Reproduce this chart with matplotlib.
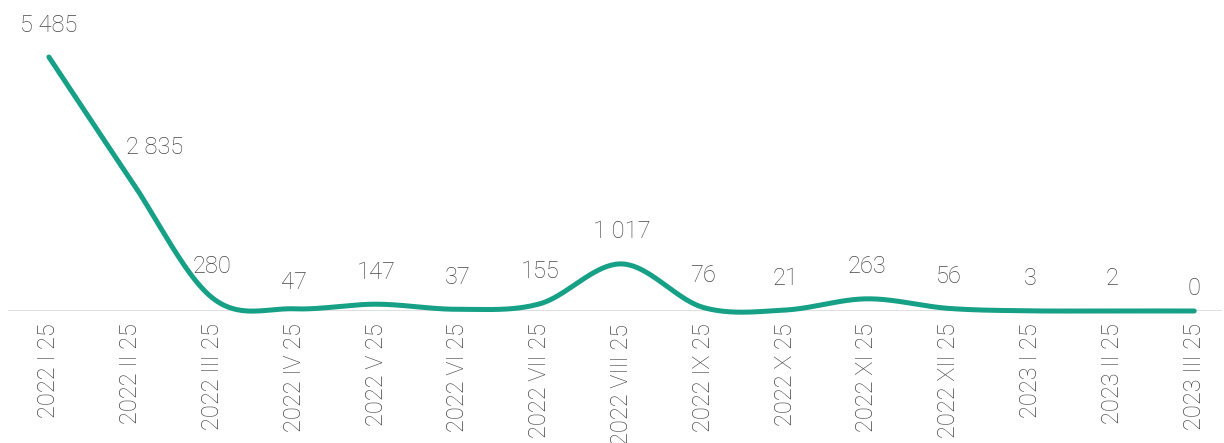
import numpy as np
import matplotlib
matplotlib.use("Agg")
import matplotlib.pyplot as plt

plt.rcParams['font.family'] = ['Roboto', 'DejaVu Sans']

# data
categories = ['2022 I 25', '2022 II 25', '2022 III 25', '2022 IV 25', '2022 V 25',
              '2022 VI 25', '2022 VII 25', '2022 VIII 25', '2022 IX 25', '2022 X 25',
              '2022 XI 25', '2022 XII 25', '2023 I 25', '2023 II 25', '2023 III 25']
values = [5485, 2835, 280, 47, 147, 37, 155, 1017, 76, 21, 263, 56, 3, 2, 0]

LINE_COLOR = '#16a085'
TEXT_COLOR = '#454545'


def smooth(x, y, n=40):
    """Excel-like smoothing: cubic Hermite with Catmull-Rom slopes."""
    x = np.asarray(x, float)
    y = np.asarray(y, float)
    m = np.zeros_like(y)
    m[1:-1] = (y[2:] - y[:-2]) / (x[2:] - x[:-2])
    m[0] = (y[1] - y[0]) / (x[1] - x[0])
    m[-1] = (y[-1] - y[-2]) / (x[-1] - x[-2])
    xs, ys = [], []
    for i in range(len(x) - 1):
        h = x[i + 1] - x[i]
        t = np.linspace(0, 1, n, endpoint=False)
        h00 = 2 * t**3 - 3 * t**2 + 1
        h10 = t**3 - 2 * t**2 + t
        h01 = -2 * t**3 + 3 * t**2
        h11 = t**3 - t**2
        xs.append(x[i] + t * h)
        ys.append(h00 * y[i] + h10 * h * m[i] + h01 * y[i + 1] + h11 * h * m[i + 1])
    xs.append([x[-1]])
    ys.append([y[-1]])
    return np.concatenate(xs), np.concatenate(ys)


fig = plt.figure(figsize=(12.24, 4.43), dpi=100)
ax = fig.add_axes([8 / 1224, 132 / 443, 1214 / 1224, 311 / 443])

x = np.arange(len(values))
sx, sy = smooth(x, values)
ax.plot(sx, sy, color=LINE_COLOR, linewidth=3.6, solid_capstyle='round',
        clip_on=False, zorder=3)

ax.axhline(0, color='#d9d9d9', linewidth=1.2, zorder=1)

# data labels (a few nudged as in the original)
nudge = {1: (17, 23), 3: (0, 19), 14: (0, 16)}
for i, v in enumerate(values):
    dx, dy = nudge.get(i, (0, 23))
    ax.annotate(f"{v:,}".replace(",", " "), (i, v), xytext=(dx, dy),
                textcoords='offset points', ha='center', va='center',
                fontsize=17, fontweight='light', color=TEXT_COLOR, zorder=4)

ax.set_xlim(-0.5, 14.34)
ax.set_ylim(0, 5485 * 311 / 254)
ax.set_xticks(x)
ax.set_xticklabels(categories, rotation=90, fontsize=17, fontweight='light',
                   color=TEXT_COLOR, va='top', ha='center')
ax.tick_params(axis='x', length=0, pad=9)
ax.set_yticks([])
for s in ax.spines.values():
    s.set_visible(False)

fig.savefig('out.png', dpi=100)
